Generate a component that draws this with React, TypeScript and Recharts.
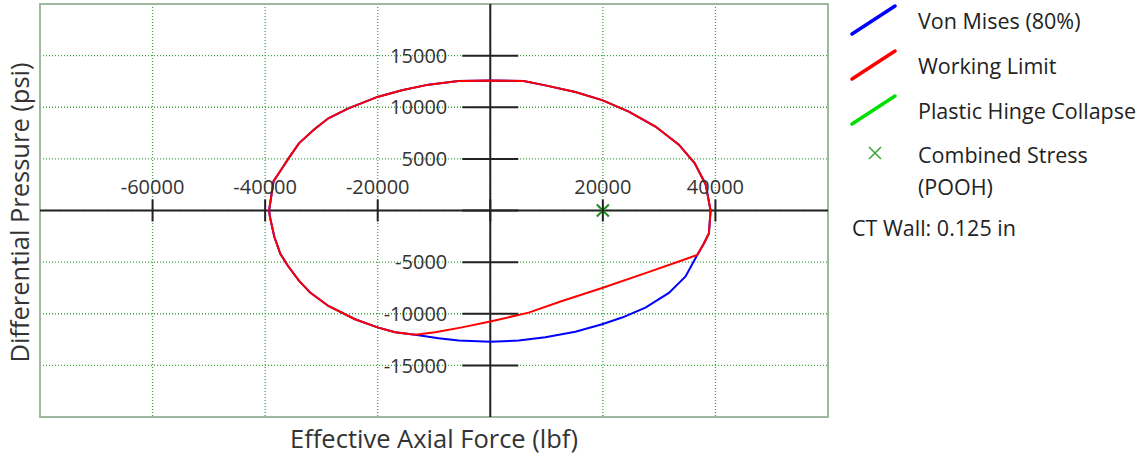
import {
  ComposedChart,
  Line,
  Scatter,
  XAxis,
  YAxis,
  CartesianGrid,
  ReferenceLine,
  ReferenceArea,
  Legend,
} from 'recharts';

// axis setup
const X_DOMAIN = [-80000, 60000];
const Y_DOMAIN = [-20000, 20000];
const X_TICKS = [-60000, -40000, -20000, 0, 20000, 40000];
const Y_TICKS = [-15000, -10000, -5000, 0, 5000, 10000, 15000];

// [effective axial force (lbf), differential pressure (psi)], traced clockwise from the left tip
const ENVELOPE_TOP = [
  [-39300, 0], [-38500, 2850], [-37100, 4000], [-35900, 5000], [-34000, 6500],
  [-31200, 7900], [-28760, 8930], [-25200, 9890], [-20040, 11000], [-15710, 11640],
  [-10970, 12190], [-5630, 12540], [0, 12600], [5930, 12540], [9780, 12120],
  [15120, 11480], [19870, 10690], [24610, 9570], [29350, 8130], [33500, 6380],
  [36300, 4600], [38250, 2550], [39140, 0], [38840, -2230], [37950, -3190],
  [36770, -4300],
];
const VON_MISES_BOTTOM = [
  [34690, -6380], [31730, -7980], [27570, -9410], [23420, -10370], [19870, -11010],
  [15120, -11740], [9780, -12280], [5040, -12600], [0, -12700], [-5630, -12600],
  [-9190, -12380], [-12160, -12120], [-13340, -12030],
];
const WORKING_LIMIT_CHORD = [
  [33500, -4940], [27570, -6060], [19870, -7500], [12750, -8770], [6820, -9890],
  [0, -10750], [-5040, -11320], [-9780, -11800], [-13340, -12030],
];
const ENVELOPE_LOWER_LEFT = [
  [-16900, -11800], [-20040, -11320], [-24020, -10530], [-28760, -9250], [-32000, -7950],
  [-34000, -6800], [-35900, -5400], [-37300, -4200], [-38370, -2550], [-39140, -640],
  [-39300, 0],
];
const PLASTIC_HINGE: number[][] = [];
const COMBINED_STRESS = [[20000, 0]];

const LINE_SERIES = ['Von Mises (80%)', 'Working Limit', 'Plastic Hinge Collapse'];
const LINE_COLORS = ['#0000ff', '#ff0000', '#00e000'];
const WALL_NOTE = 'CT Wall: 0.125 in';

const W = 1139;
const H = 455;
const MARGIN = { top: 4, right: 311, bottom: 0, left: 0 };
const Y_AXIS_W = 40;
const X_AXIS_H = 38;
const PLOT_W = W - MARGIN.left - MARGIN.right - Y_AXIS_W;
const PLOT_H = H - MARGIN.top - MARGIN.bottom - X_AXIS_H;
const ZERO_X = MARGIN.left + Y_AXIS_W + (PLOT_W * (0 - X_DOMAIN[0])) / (X_DOMAIN[1] - X_DOMAIN[0]);
const ZERO_Y = MARGIN.top + (PLOT_H * Y_DOMAIN[1]) / (Y_DOMAIN[1] - Y_DOMAIN[0]);

const FONT = '"Open Sans", "Noto Sans", sans-serif';
const TEXT = '#333';

const toPoints = (pts: number[][]) => pts.map(([x, y]) => ({ x, y }));

const vonMises = toPoints([...ENVELOPE_TOP, ...VON_MISES_BOTTOM, ...ENVELOPE_LOWER_LEFT]);
const workingLimit = toPoints([...ENVELOPE_TOP, ...WORKING_LIMIT_CHORD, ...ENVELOPE_LOWER_LEFT]);
const plasticHinge = toPoints(PLASTIC_HINGE);
const combined = toPoints(COMBINED_STRESS);

// ticks sit on the axes through the origin, not on the frame
function XTick(props: any) {
  const { x, payload } = props;
  return (
    <g>
      <line x1={x} x2={x} y1={ZERO_Y - 11} y2={ZERO_Y + 11} stroke="#222" strokeWidth={2} />
      {payload.value !== 0 && (
        <text x={x} y={ZERO_Y - 17} textAnchor="middle" fill={TEXT} fontSize={20}>
          {payload.value}
        </text>
      )}
    </g>
  );
}

function YTick(props: any) {
  const { y, payload } = props;
  return (
    <g>
      <line x1={ZERO_X - 28} x2={ZERO_X + 28} y1={y} y2={y} stroke="#222" strokeWidth={2} />
      {payload.value !== 0 && (
        <text x={ZERO_X - 43} y={y} dy="0.36em" textAnchor="end" fill={TEXT} fontSize={20}>
          {payload.value}
        </text>
      )}
    </g>
  );
}

function XMark(props: any) {
  const { cx, cy } = props;
  const r = 6;
  return (
    <path
      d={`M${cx - r},${cy - r}L${cx + r},${cy + r}M${cx + r},${cy - r}L${cx - r},${cy + r}`}
      stroke="#228b22"
      strokeWidth={2}
      fill="none"
    />
  );
}

function ChartLegend() {
  return (
    <div style={{ position: 'relative', width: 294, height: 250, color: '#222', fontSize: 21.5, fontFamily: FONT }}>
      {LINE_SERIES.map((name, i) => (
        <div
          key={name}
          style={{ position: 'absolute', left: 0, top: i * 45 - 2, height: 45, display: 'flex', alignItems: 'center' }}
        >
          <svg width={52} height={45}>
            <line x1={7} y1={36} x2={50} y2={8} stroke={LINE_COLORS[i]} strokeWidth={3.5} strokeLinecap="round" />
          </svg>
          <span style={{ marginLeft: 21, whiteSpace: 'nowrap' }}>{name}</span>
        </div>
      ))}
      <div style={{ position: 'absolute', left: 0, top: 133, display: 'flex' }}>
        <svg width={52} height={40}>
          <path d="M24,14L36,26M36,14L24,26" stroke="#3caa3c" strokeWidth={1.6} fill="none" />
        </svg>
        <span style={{ marginLeft: 21, lineHeight: '32px', paddingTop: 6 }}>
          Combined Stress
          <br />
          (POOH)
        </span>
      </div>
      <div style={{ position: 'absolute', left: 7, top: 212, lineHeight: '32px', whiteSpace: 'nowrap' }}>
        {WALL_NOTE}
      </div>
    </div>
  );
}

export default function App() {
  return (
    <div style={{ position: 'absolute', left: 0, top: 0, fontFamily: FONT }}>
      <ComposedChart width={W} height={H} margin={MARGIN}>
        <CartesianGrid stroke="#3fa63f" strokeDasharray="1 2" strokeWidth={1.3} />
        <XAxis
          type="number"
          dataKey="x"
          domain={X_DOMAIN}
          ticks={X_TICKS}
          interval={0}
          allowDataOverflow
          height={X_AXIS_H}
          axisLine={false}
          tickLine={false}
          tick={<XTick />}
          label={{ value: 'Effective Axial Force (lbf)', position: 'center', dy: 3, fontSize: 25.5, fill: TEXT }}
        />
        <YAxis
          type="number"
          dataKey="y"
          domain={Y_DOMAIN}
          ticks={Y_TICKS}
          interval={0}
          allowDataOverflow
          width={Y_AXIS_W}
          axisLine={false}
          tickLine={false}
          tick={<YTick />}
          label={{ value: 'Differential Pressure (psi)', position: 'center', angle: -90, dy: 2, fontSize: 25.5, fill: TEXT }}
        />
        <ReferenceArea
          x1={X_DOMAIN[0]}
          x2={X_DOMAIN[1]}
          y1={Y_DOMAIN[0]}
          y2={Y_DOMAIN[1]}
          fill="none"
          stroke="#a0b7a0"
          strokeWidth={2}
        />
        <ReferenceLine x={0} stroke="#222" strokeWidth={2} />
        <ReferenceLine y={0} stroke="#222" strokeWidth={2} />
        <Line
          data={vonMises}
          dataKey="y"
          name={LINE_SERIES[0]}
          type="linear"
          stroke={LINE_COLORS[0]}
          strokeWidth={2}
          dot={false}
          isAnimationActive={false}
        />
        <Line
          data={workingLimit}
          dataKey="y"
          name={LINE_SERIES[1]}
          type="linear"
          stroke={LINE_COLORS[1]}
          strokeWidth={2}
          dot={false}
          isAnimationActive={false}
        />
        <Line
          data={plasticHinge}
          dataKey="y"
          name={LINE_SERIES[2]}
          type="linear"
          stroke={LINE_COLORS[2]}
          strokeWidth={2}
          dot={false}
          isAnimationActive={false}
        />
        <Scatter data={combined} dataKey="y" name="Combined Stress (POOH)" shape={<XMark />} isAnimationActive={false} />
        <Legend
          layout="vertical"
          align="center"
          verticalAlign="middle"
          content={<ChartLegend />}
          wrapperStyle={{ left: 845, top: 0, width: 294 }}
        />
      </ComposedChart>
    </div>
  );
}
